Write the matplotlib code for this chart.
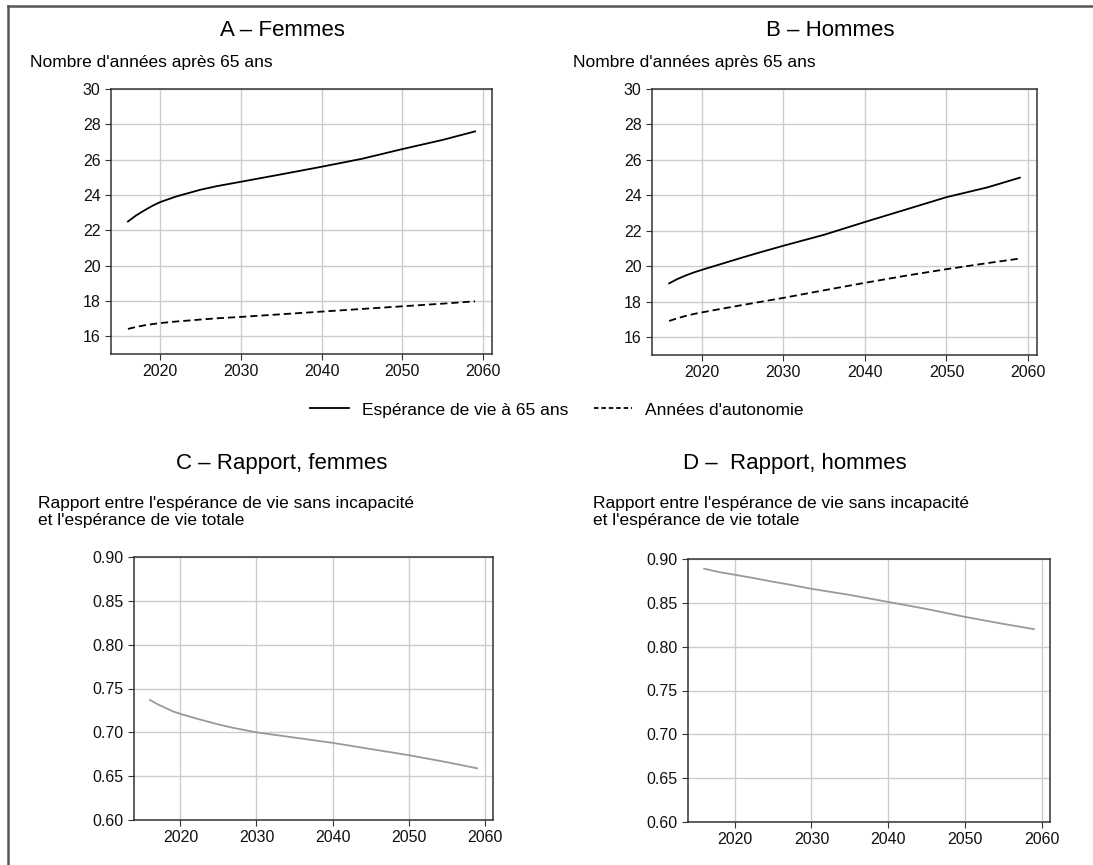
import matplotlib
matplotlib.use("Agg")
import matplotlib.pyplot as plt
from matplotlib.lines import Line2D

plt.rcParams["font.family"] = ["Liberation Sans", "DejaVu Sans"]

years = [2016, 2017, 2018, 2019, 2020, 2022, 2025, 2027, 2030, 2035, 2040, 2045, 2050, 2055, 2059]

esp_femmes = [22.5, 22.84, 23.12, 23.38, 23.6, 23.92, 24.3, 24.5, 24.75, 25.17, 25.6, 26.05, 26.6, 27.12, 27.6]
auto_femmes = [16.42, 16.53, 16.62, 16.69, 16.75, 16.84, 16.95, 17.02, 17.1, 17.25, 17.4, 17.55, 17.7, 17.85, 17.98]
esp_hommes = [19.04, 19.28, 19.48, 19.65, 19.8, 20.08, 20.5, 20.77, 21.16, 21.78, 22.5, 23.2, 23.9, 24.45, 25.0]
auto_hommes = [16.92, 17.07, 17.2, 17.31, 17.4, 17.57, 17.82, 17.98, 18.22, 18.65, 19.07, 19.47, 19.84, 20.18, 20.44]
ratio_femmes = [0.737, 0.732, 0.728, 0.724, 0.721, 0.716, 0.709, 0.705, 0.700, 0.694, 0.688, 0.681, 0.674, 0.666, 0.659]
ratio_hommes = [0.889, 0.887, 0.885, 0.8835, 0.882, 0.879, 0.874, 0.871, 0.866, 0.859, 0.851, 0.843, 0.834, 0.826, 0.820]

W, H = 1093, 865
fig = plt.figure(figsize=(W / 100, H / 100), dpi=100)


def px_axes(left, top, right, bottom):
    return fig.add_axes([left / W, 1 - bottom / H, (right - left) / W, (bottom - top) / H])


def style(ax):
    ax.grid(True, color="#cccccc", linewidth=1.0)
    ax.set_axisbelow(True)
    for s in ax.spines.values():
        s.set_color("#333333")
        s.set_linewidth(1.1)
    ax.tick_params(labelsize=11.5, color="#333333", length=4, labelcolor="#111111")
    ax.set_xticks([2020, 2030, 2040, 2050, 2060])
    ax.set_xlim(2013.9, 2061.1)


axA = px_axes(111, 89, 492, 354)
axB = px_axes(652, 89, 1037, 355)
axC = px_axes(134, 557, 493, 820)
axD = px_axes(688, 559, 1050, 822)

for ax, esp, auto in [(axA, esp_femmes, auto_femmes), (axB, esp_hommes, auto_hommes)]:
    style(ax)
    ax.plot(years, esp, color="black", linewidth=1.3)
    ax.plot(years, auto, color="black", linewidth=1.3, dashes=(4, 2.2))
    ax.set_ylim(15, 30)
    ax.set_yticks([16, 18, 20, 22, 24, 26, 28, 30])

for ax, ratio in [(axC, ratio_femmes), (axD, ratio_hommes)]:
    style(ax)
    ax.plot(years, ratio, color="#999999", linewidth=1.3)
    ax.set_ylim(0.60, 0.90)
    ax.set_yticks([0.60, 0.65, 0.70, 0.75, 0.80, 0.85, 0.90])
    ax.set_yticklabels([f"{v:.2f}" for v in ax.get_yticks()])

# titles and y-axis captions
fig.text(282 / W, 1 - 31 / H, "A – Femmes", ha="center", va="center", fontsize=16)
fig.text(830 / W, 1 - 31 / H, "B – Hommes", ha="center", va="center", fontsize=16)
fig.text(282 / W, 1 - 464 / H, "C – Rapport, femmes", ha="center", va="center", fontsize=16)
fig.text(795 / W, 1 - 464 / H, "D –  Rapport, hommes", ha="center", va="center", fontsize=16)

fig.text(30 / W, 1 - 62 / H, "Nombre d'années après 65 ans", ha="left", va="center", fontsize=12.5)
fig.text(573 / W, 1 - 62 / H, "Nombre d'années après 65 ans", ha="left", va="center", fontsize=12.5)
lab = "Rapport entre l'espérance de vie sans incapacité\net l'espérance de vie totale"
fig.text(38 / W, 1 - 512 / H, lab, ha="left", va="center", fontsize=12.5, linespacing=1.25)
fig.text(593 / W, 1 - 512 / H, lab, ha="left", va="center", fontsize=12.5, linespacing=1.25)

handles = [
    Line2D([], [], color="black", linewidth=1.3),
    Line2D([], [], color="black", linewidth=1.3, dashes=(2.5, 1.6)),
]
fig.legend(handles, ["Espérance de vie à 65 ans", "Années d'autonomie"],
           loc="center", bbox_to_anchor=(557 / W, 1 - 410 / H), ncol=2,
           frameon=False, fontsize=12.5, handlelength=2.2, handletextpad=0.75,
           columnspacing=1.5)

# frame around the figure (left and top edges visible)
fig.add_artist(Line2D([8 / W, 8 / W], [0, 1 - 6 / H], color="#555555", linewidth=1.8))
fig.add_artist(Line2D([8 / W, 1], [1 - 6 / H, 1 - 6 / H], color="#555555", linewidth=1.8))

fig.savefig("out.png", dpi=100)
